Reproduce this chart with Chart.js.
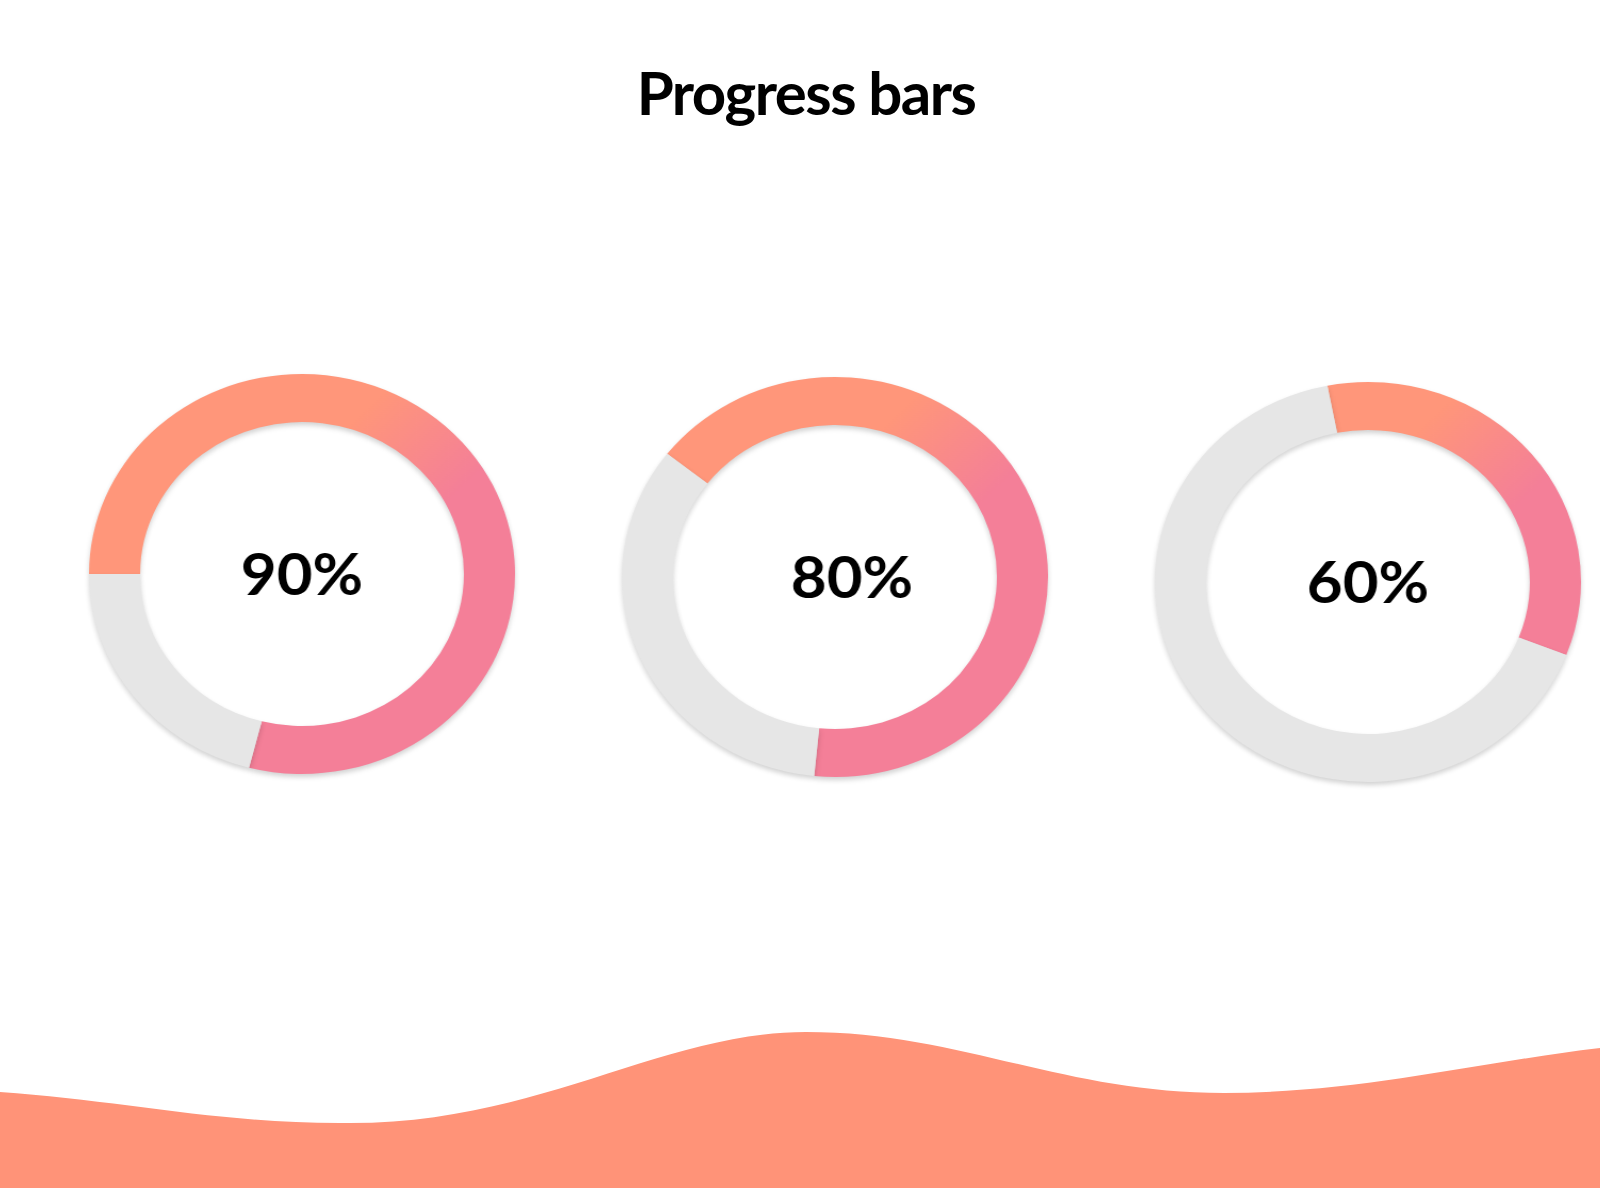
<!DOCTYPE html>
<html lang="en">

<head>
    <meta charset="UTF-8">
    <title>Progress bars</title>
    <script src="https://cdn.jsdelivr.net/npm/chart.js"></script>
    <style>
        body {
            margin: 0;
            width: 1600px;
            height: 1188px;
            background: #fff;
            overflow: hidden;
            position: relative;
            font-family: Lato, sans-serif;
        }

        h1 {
            position: absolute;
            top: 56px;
            left: 0;
            width: 1612px;
            margin: 0;
            text-align: center;
            font-size: 60px;
            font-weight: 700;
            letter-spacing: -1.5px;
            color: #000;
        }

        .ring {
            position: absolute;
            width: 420px;
            height: 420px;
            transform: scaleX(1.065);
        }

        .wave {
            position: absolute;
            left: 0;
            bottom: 0;
        }
    </style>
</head>

<body>
    <h1>Progress bars</h1>

    <div class="ring" style="left: 92px; top: 364px;"><canvas id="ring-0"></canvas></div>
    <div class="ring" style="left: 625px; top: 367px;"><canvas id="ring-1"></canvas></div>
    <div class="ring" style="left: 1158px; top: 372px;"><canvas id="ring-2"></canvas></div>

    <!-- decorative wave at the bottom -->
    <svg class="wave" width="1600" height="188" viewBox="0 1000 1600 188">
        <path fill="#FF9378"
            d="M0,1092 C120,1100 220,1124 347,1123 C540,1124 660,1032 806,1032 C960,1032 1060,1093 1224,1093 C1360,1093 1480,1062 1600,1048 L1600,1188 L0,1188 Z" />
    </svg>

    <script>
        // what the label in the middle says
        const shownPercent = [90, 80, 60];
        // how much of the ring is actually coloured in the picture
        const filledPercent = [79, 66, 34];
        // where the coloured part starts (degrees clockwise from top)
        const startDegrees = [270, 308, 349];

        const ORANGE = '#FF967A';
        const PINK = '#F47F98';
        const GREY = '#E6E6E6';

        // small horizontal nudge of the centre label
        const labelShift = [0, 16, 0];

        // first slice gets the diagonal orange -> pink gradient, second is grey
        function sliceColour(context) {
            if (context.dataIndex === 1) return GREY;
            const chart = context.chart;
            const area = chart.chartArea;
            if (!area) return ORANGE;
            const g = chart.ctx.createLinearGradient(area.left, area.top, area.right, area.bottom);
            g.addColorStop(0, ORANGE);
            g.addColorStop(0.37, ORANGE);
            g.addColorStop(0.58, PINK);
            g.addColorStop(1, PINK);
            return g;
        }

        // soft drop shadow under the ring
        const ringShadow = {
            id: 'ringShadow',
            beforeDatasetsDraw(chart) {
                const ctx = chart.ctx;
                ctx.save();
                ctx.shadowColor = 'rgba(0, 0, 0, 0.18)';
                ctx.shadowBlur = 5;
                ctx.shadowOffsetY = 3;
            },
            afterDatasetsDraw(chart) {
                chart.ctx.restore();
            }
        };

        // percentage text in the hole
        const centreText = {
            id: 'centreText',
            afterDraw(chart, args, opts) {
                const ctx = chart.ctx;
                const meta = chart.getDatasetMeta(0).data[0];
                ctx.save();
                ctx.font = '700 58px Lato';
                ctx.fillStyle = '#000';
                ctx.textAlign = 'center';
                ctx.textBaseline = 'middle';
                ctx.fillText(opts.text, meta.x + opts.shift, meta.y + 2);
                ctx.restore();
            }
        };

        shownPercent.forEach((pct, i) => {
            const ctx = document.getElementById('ring-' + i).getContext('2d');
            new Chart(ctx, {
                type: 'doughnut',
                data: {
                    labels: ['done', 'left'],
                    datasets: [{
                        data: [filledPercent[i], 100 - filledPercent[i]],
                        backgroundColor: sliceColour,
                        borderWidth: 0
                    }]
                },
                options: {
                    responsive: true,
                    maintainAspectRatio: false,
                    animation: false,
                    events: [],
                    rotation: startDegrees[i],
                    cutout: '76%',
                    layout: { padding: 10 },
                    plugins: {
                        legend: { display: false },
                        tooltip: { enabled: false },
                        centreText: { text: pct + '%', shift: labelShift[i] }
                    }
                },
                plugins: [ringShadow, centreText]
            });
        });
    </script>
</body>

</html>
